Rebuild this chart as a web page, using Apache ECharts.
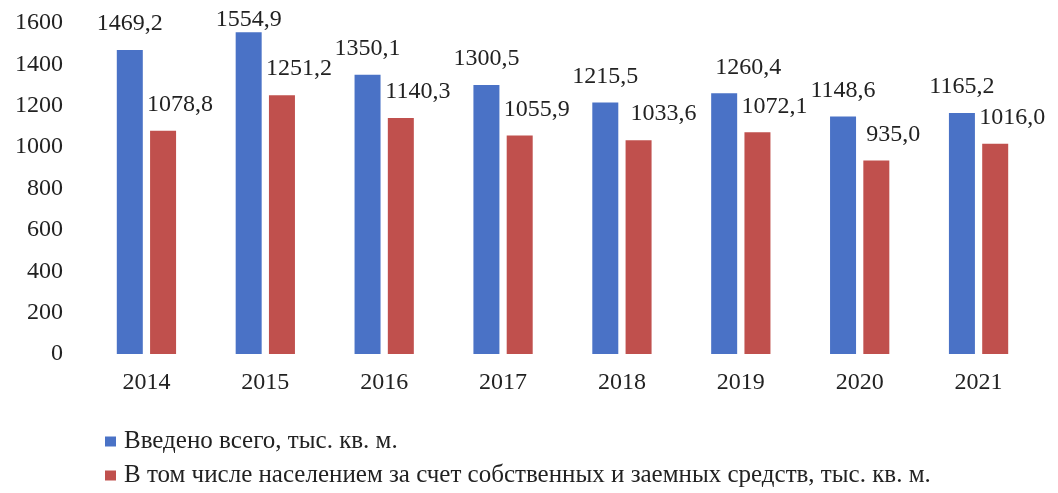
<!DOCTYPE html>
<html>
<head>
<meta charset="utf-8">
<script src="https://cdn.jsdelivr.net/npm/echarts@6/dist/echarts.min.js"></script>
<style>
  html, body { margin: 0; padding: 0; background: #fff; }
  #chart { width: 1058px; height: 493px; }
</style>
</head>
<body>
<div id="chart"></div>
<script>
// данные с рисунка
const years = ['2014', '2015', '2016', '2017', '2018', '2019', '2020', '2021'];
const totalArea = [1469.2, 1554.9, 1350.1, 1300.5, 1215.5, 1260.4, 1148.6, 1165.2];
const populationArea = [1078.8, 1251.2, 1140.3, 1055.9, 1033.6, 1072.1, 935.0, 1016.0];
const seriesNames = [
  'Введено всего, тыс. кв. м.',
  'В том числе населением за счет собственных и заемных средств, тыс. кв. м.'
];

const font = 'Liberation Serif';
const fmt = p => p.value.toFixed(1).replace('.', ',');

// подписи в оригинале местами сдвинуты вручную
const blueData = totalArea.map((v, i) => {
  if (i === 1) return { value: v, label: { distance: 1 } };
  if (i === 5) return { value: v, label: { offset: [24, 0] } };
  return v;
});
const redData = populationArea.map((v, i) => {
  if (i === 4) return { value: v, label: { offset: [25, 0] } };
  return v;
});

const chart = echarts.init(document.getElementById('chart'));

chart.setOption({
  animation: false,
  textStyle: { fontFamily: font, color: '#222' },
  grid: { left: 87, right: 20, top: 23, bottom: 139 },
  legend: {
    orient: 'vertical',
    left: 100,
    top: 422,
    height: 120,
    itemGap: 5,
    itemWidth: 11,
    itemHeight: 10,
    icon: 'rect',
    textStyle: {
      fontFamily: font,
      fontSize: 25,
      lineHeight: 29,
      color: '#222',
      padding: [0, 0, 0, 3]
    },
    data: seriesNames
  },
  xAxis: {
    type: 'category',
    data: years,
    axisLine: { show: false },
    axisTick: { show: false },
    axisLabel: { fontFamily: font, fontSize: 24, color: '#222', margin: 17 }
  },
  yAxis: {
    type: 'value',
    min: 0,
    max: 1600,
    interval: 200,
    splitLine: { show: false },
    axisLine: { show: false },
    axisTick: { show: false },
    axisLabel: {
      fontFamily: font,
      fontSize: 24,
      color: '#222',
      margin: 24,
      formatter: v => String(v)
    }
  },
  series: [
    {
      name: seriesNames[0],
      type: 'bar',
      data: blueData,
      barWidth: 26,
      barGap: '28%',
      itemStyle: { color: '#4a72c6' },
      label: {
        show: true,
        position: 'top',
        distance: 14,
        fontFamily: font,
        fontSize: 24,
        color: '#222',
        formatter: fmt
      }
    },
    {
      name: seriesNames[1],
      type: 'bar',
      data: redData,
      barWidth: 26,
      itemStyle: { color: '#c0504d' },
      label: {
        show: true,
        position: 'top',
        distance: 14,
        offset: [17, 0],
        fontFamily: font,
        fontSize: 24,
        color: '#222',
        formatter: fmt
      }
    }
  ]
});
</script>
</body>
</html>
